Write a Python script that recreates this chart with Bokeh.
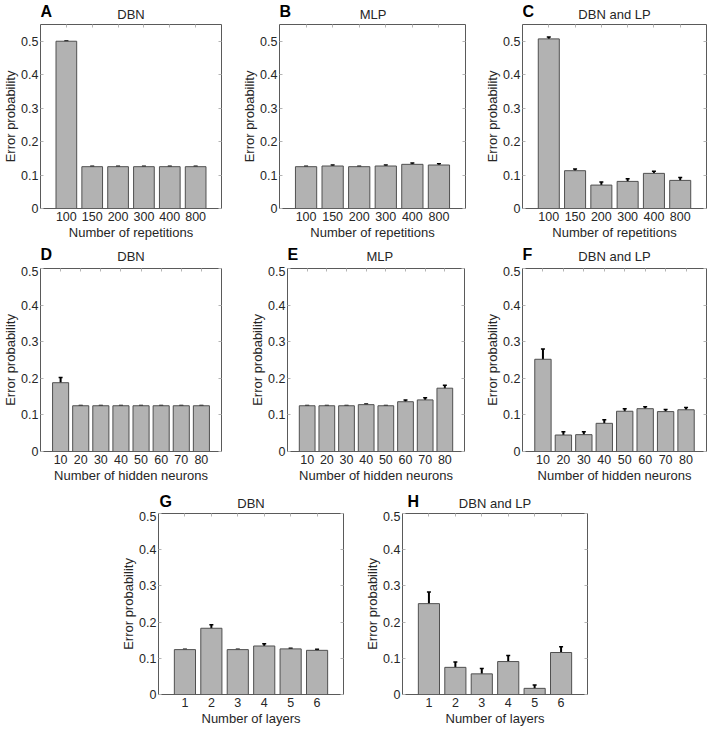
from bokeh.plotting import figure
from bokeh.models import (Range1d, FixedTicker, CustomJSTickFormatter, LinearAxis,
                          Whisker, TeeHead, ColumnDataSource, Spacer)
from bokeh.core.properties import value
from bokeh.layouts import column, row
from bokeh.embed import file_html
from bokeh.resources import INLINE

# ---------------- data ----------------
rep_labels = ["100", "150", "200", "300", "400", "800"]
hid_labels = ["10", "20", "30", "40", "50", "60", "70", "80"]
lay_labels = ["1", "2", "3", "4", "5", "6"]

a_vals = [0.500, 0.125, 0.125, 0.125, 0.125, 0.125]
a_err = [0.001, 0.001, 0.001, 0.001, 0.001, 0.001]
b_vals = [0.125, 0.127, 0.125, 0.127, 0.132, 0.130]
b_err = [0.001, 0.003, 0.001, 0.003, 0.004, 0.004]
c_vals = [0.507, 0.113, 0.070, 0.081, 0.105, 0.084]
c_err = [0.006, 0.005, 0.009, 0.008, 0.006, 0.009]

d_vals = [0.188, 0.125, 0.125, 0.125, 0.125, 0.125, 0.125, 0.125]
d_err = [0.014, 0.001, 0.001, 0.001, 0.001, 0.001, 0.001, 0.001]
e_vals = [0.125, 0.125, 0.125, 0.128, 0.125, 0.136, 0.141, 0.173]
e_err = [0.001, 0.001, 0.001, 0.002, 0.001, 0.005, 0.006, 0.008]
f_vals = [0.252, 0.045, 0.046, 0.077, 0.110, 0.117, 0.109, 0.114]
f_err = [0.028, 0.009, 0.008, 0.010, 0.007, 0.005, 0.006, 0.006]

g_vals = [0.124, 0.183, 0.124, 0.134, 0.126, 0.122]
g_err = [0.001, 0.010, 0.001, 0.006, 0.002, 0.003]
h_vals = [0.251, 0.075, 0.057, 0.091, 0.017, 0.116]
h_err = [0.032, 0.015, 0.015, 0.017, 0.009, 0.016]

y_ticks = [0, 0.1, 0.2, 0.3, 0.4, 0.5]

FONT = "Liberation Sans"
TXT = "#262626"
FRAME = "#5a5a5a"
TICK = "#b4b4b4"


def header(letter, title, n, left, frame_w, right, h, letter_y, title_y, letter_dx=0):
    """Strip above a panel holding the panel letter and its title.
    Its frame lines up with the panel frame below; a negative letter_dx
    widens the strip to the left so the letter can sit left of the frame."""
    ext = max(0, -letter_dx)
    w = left + frame_w + right
    span = n + 1
    x0 = -ext * span / frame_w
    p = figure(width=w, height=h, x_range=Range1d(x0, span), y_range=Range1d(0, h),
               output_backend="svg", toolbar_location=None,
               x_axis_location=None, y_axis_location=None,
               min_border_left=left - ext, min_border_right=right,
               min_border_top=0, min_border_bottom=0)
    p.outline_line_color = None
    p.xgrid.visible = False
    p.ygrid.visible = False
    p.text(x=[x0], y=[letter_y], text=[letter], text_font=value(FONT),
           x_offset=max(0, letter_dx),
           text_font_size="16px", text_font_style="bold", text_color="black",
           text_align="left", text_baseline="middle")
    p.text(x=[span / 2], y=[title_y], text=[title], text_font=value(FONT),
           text_font_size="13px", text_color=TXT,
           text_align="center", text_baseline="middle")
    return p


def panel(cats, vals, errs, xlabel, ymax, left, frame_w, right, top, frame_h, bottom):
    n = len(cats)
    xs = list(range(1, n + 1))
    p = figure(width=left + frame_w + right, height=top + frame_h + bottom,
               x_range=Range1d(0, n + 1), y_range=Range1d(0, ymax),
               output_backend="svg", toolbar_location=None,
               min_border_left=left, min_border_right=right,
               min_border_top=top, min_border_bottom=bottom)
    p.xgrid.visible = False
    p.ygrid.visible = False
    p.outline_line_color = FRAME
    p.outline_line_width = 1

    p.vbar(x=xs, top=vals, width=0.8, bottom=0, fill_color="#b2b2b2",
           line_color="#505050", line_width=1)
    src = ColumnDataSource(dict(x=xs, upper=[v + e for v, e in zip(vals, errs)],
                                lower=[v - e for v, e in zip(vals, errs)]))
    p.add_layout(Whisker(source=src, base="x", upper="upper", lower="lower",
                         line_color="black", line_width=2,
                         upper_head=TeeHead(size=4, line_color="black", line_width=1.5),
                         lower_head=TeeHead(size=4, line_color="black", line_width=1.5)))

    xfmt = CustomJSTickFormatter(args=dict(labels=cats),
                                 code="var i = Math.round(tick) - 1; return (i >= 0 && i < labels.length) ? labels[i] : '';")
    yfmt = CustomJSTickFormatter(code="return Math.abs(tick) < 1e-9 ? '0' : tick.toFixed(1);")
    empty = CustomJSTickFormatter(code="return '';")

    xa = p.xaxis[0]
    xa.ticker = FixedTicker(ticks=xs)
    xa.formatter = xfmt
    xa.axis_label = xlabel
    ya = p.yaxis[0]
    ya.ticker = FixedTicker(ticks=y_ticks)
    ya.formatter = yfmt
    ya.axis_label = "Error probability"
    for ax in (xa, ya):
        ax.axis_line_color = None
        ax.major_tick_in = 3
        ax.major_tick_out = 0
        ax.major_tick_line_color = TICK
        ax.minor_tick_line_color = None
        ax.major_label_text_font = FONT
        ax.major_label_text_font_size = "12.5px"
        ax.major_label_text_color = TXT
        ax.axis_label_text_font = FONT
        ax.axis_label_text_font_size = "13px"
        ax.axis_label_text_font_style = "normal"
        ax.axis_label_text_color = TXT
        ax.major_label_standoff = 2
        ax.axis_label_standoff = 0
    xa.major_tick_line_color = None
    xa.major_label_standoff = 3
    xa.axis_label_standoff = 1

    top_ax = LinearAxis(ticker=FixedTicker(ticks=xs), formatter=empty)
    right_ax = LinearAxis(ticker=FixedTicker(ticks=y_ticks), formatter=empty)
    for ax in (top_ax, right_ax):
        ax.axis_line_color = None
        ax.major_tick_in = 3
        ax.major_tick_out = 0
        ax.major_tick_line_color = TICK
        ax.minor_tick_line_color = None
        ax.major_label_standoff = 0
        ax.major_label_text_font_size = "0px"
    p.add_layout(top_ax, "above")
    p.add_layout(right_ax, "right")
    return p


XR = "Number of repetitions"
XH = "Number of hidden neurons"
XL = "Number of layers"

# row 1
pa = panel(rep_labels, a_vals, a_err, XR, 0.55, 40, 181, 18, 2, 185, 33)
pb = panel(rep_labels, b_vals, b_err, XR, 0.55, 40, 186, 17, 2, 185, 33)
pc = panel(rep_labels, c_vals, c_err, XR, 0.55, 40, 184, 1, 2, 185, 33)
ha = header("A", "DBN", 6, 40, 181, 18, 22, 11, 8)
hb = header("B", "MLP", 6, 40, 186, 17, 22, 11, 8, letter_dx=-1)
hc = header("C", "DBN and LP", 6, 40, 184, 1, 22, 11, 8)

# row 2
pd = panel(hid_labels, d_vals, d_err, XH, 0.5, 40, 181, 18, 2, 184, 33)
pe = panel(hid_labels, e_vals, e_err, XH, 0.5, 48, 177, 18, 2, 184, 33)
pf = panel(hid_labels, f_vals, f_err, XH, 0.5, 40, 184, 1, 2, 184, 33)
hd = header("D", "DBN", 8, 40, 181, 18, 24, 12, 10)
he = header("E", "MLP", 8, 48, 177, 18, 24, 12, 10, letter_dx=-8)
hf = header("F", "DBN and LP", 8, 40, 184, 1, 24, 12, 10)

# row 3
pg = panel(lay_labels, g_vals, g_err, XL, 0.5, 40, 185, 19, 2, 184, 31)
ph = panel(lay_labels, h_vals, h_err, XL, 0.5, 40, 185, 2, 2, 184, 31)
hg = header("G", "DBN", 6, 40, 185, 19, 26, 10, 8, letter_dx=1)
hh = header("H", "DBN and LP", 6, 40, 185, 2, 26, 10, 8, letter_dx=5)

layout = column(
    row(column(ha, pa), column(hb, pb), column(hc, pc)),
    row(column(hd, pd), column(he, pe), column(hf, pf)),
    row(Spacer(width=118, height=10), column(hg, pg), column(hh, ph)),
)

open("out.html", "w").write(file_html(layout, INLINE))
